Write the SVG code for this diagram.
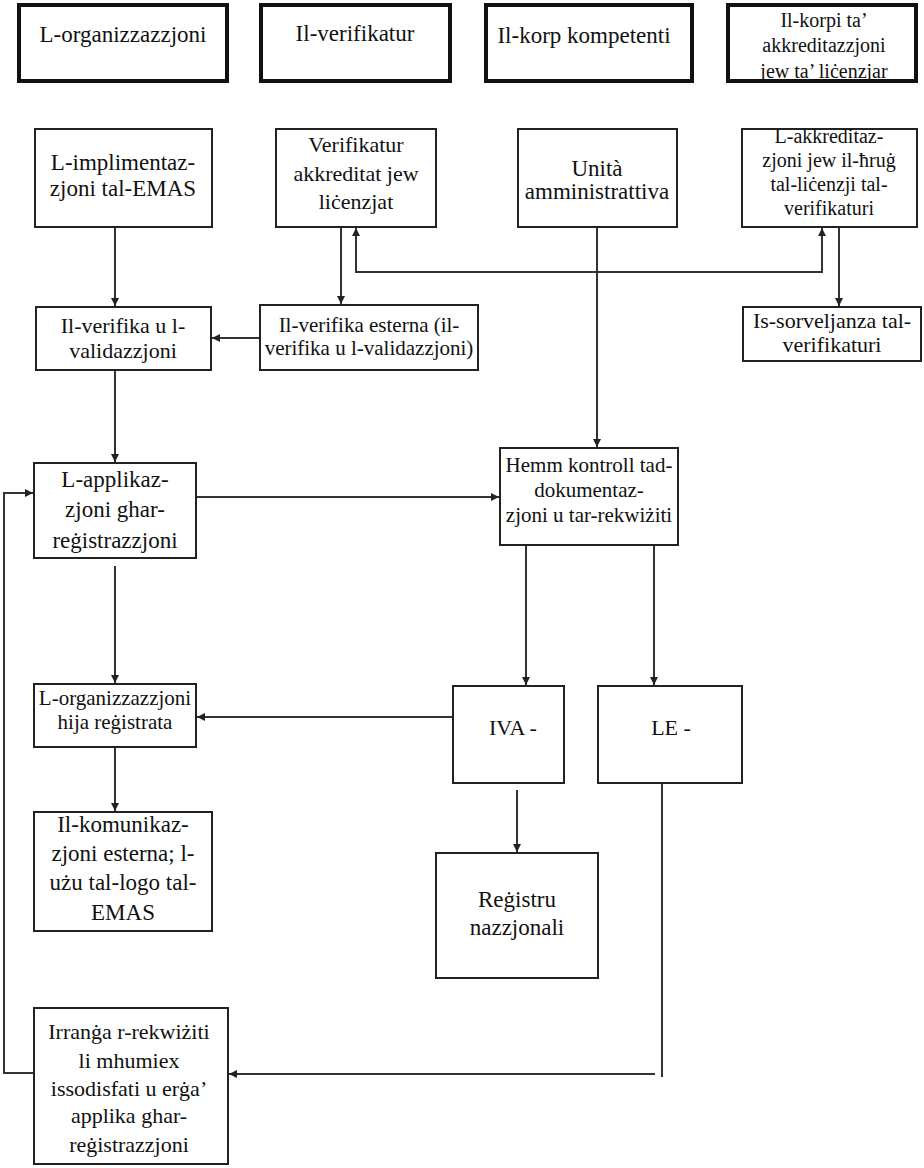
<svg xmlns="http://www.w3.org/2000/svg" width="924" height="1168" viewBox="0 0 924 1168">
<defs>
<marker id="arr" viewBox="0 0 10 10" refX="10" refY="5" markerWidth="8" markerHeight="8" markerUnits="userSpaceOnUse" orient="auto-start-reverse">
<path d="M0,0 L10,5 L0,10 z" fill="#222"/>
</marker>
</defs>
<style>
.hdr{fill:#fff;stroke:#111;stroke-width:4}
.box{fill:#fff;stroke:#222;stroke-width:2}
.t{font-family:"Liberation Serif","Times New Roman",serif;fill:#111;text-anchor:middle;font-size:22px}
.s20{font-size:20px}
.s21{font-size:21px}
.s23{font-size:23px}
.c{fill:none;stroke:#333;stroke-width:2}
.a{marker-end:url(#arr)}
</style>
<rect width="924" height="1168" fill="#fff"/>

<g id="connectors">
<path class="c a" d="M115,227 V306"/>
<path class="c a" d="M341,227 V304"/>
<path class="c a" d="M356,228 V272 H822 V228" marker-start="url(#arr)"/>
<path class="c a" d="M839,227 V306"/>
<path class="c a" d="M260,338 H212"/>
<path class="c a" d="M115,370 V462"/>
<path class="c a" d="M597,227 V447"/>
<path class="c a" d="M196,497 H499"/>
<path class="c a" d="M526,545 V685"/>
<path class="c a" d="M654,545 V685"/>
<path class="c a" d="M115,566 V683"/>
<path class="c a" d="M469,717 H197"/>
<path class="c a" d="M115,747 V811"/>
<path class="c a" d="M517,790 V852"/>
<path class="c" d="M662,773 V1077"/>
<path class="c a" d="M655,1074 H229"/>
<path class="c a" d="M34,1073 H4 V493 H33"/>
</g>

<g id="h1"><rect class="hdr" x="19" y="5" width="208" height="76"/><text class="t s23" x="123" y="42">L-organizzazzjoni</text></g>
<g id="h2"><rect class="hdr" x="261" y="5" width="189" height="76"/><text class="t s23" x="355" y="41">Il-verifikatur</text></g>
<g id="h3"><rect class="hdr" x="486" y="5" width="206" height="76"/><text class="t s23" x="584" y="43">Il-korp kompetenti</text></g>
<g id="h4"><rect class="hdr" x="728" y="5" width="188" height="76"/><text class="t s20" x="824"><tspan x="824" y="27">Il-korpi ta’</tspan><tspan x="824" y="52">akkreditazzjoni</tspan><tspan x="824" y="78">jew ta’ liċenzjar</tspan></text></g>

<g id="impl"><rect class="box" x="35" y="129" width="177" height="98"/><text class="t s23"><tspan x="123" y="170">L-implimentaz-</tspan><tspan x="123" y="196">zjoni tal-EMAS</tspan></text></g>
<g id="verak"><rect class="box" x="276" y="129" width="160" height="98"/><text class="t"><tspan x="356" y="152">Verifikatur</tspan><tspan x="356" y="181">akkreditat jew</tspan><tspan x="356" y="209">liċenzjat</tspan></text></g>
<g id="unita"><rect class="box" x="518" y="129" width="159" height="98"/><text class="t s23"><tspan x="597" y="176">Unità</tspan><tspan x="597" y="199">amministrattiva</tspan></text></g>
<g id="akkr"><rect class="box" x="742" y="129" width="175" height="98"/><text class="t s20"><tspan x="829" y="143">L-akkreditaz-</tspan><tspan x="829" y="167">zjoni jew il-ħruġ</tspan><tspan x="829" y="191">tal-liċenzji tal-</tspan><tspan x="829" y="215">verifikaturi</tspan></text></g>

<g id="verval"><rect class="box" x="36" y="307" width="175" height="63"/><text class="t"><tspan x="123" y="333">Il-verifika u l-</tspan><tspan x="123" y="358">validazzjoni</tspan></text></g>
<g id="esterna"><rect class="box" x="260" y="305" width="218" height="65"/><text class="t s21"><tspan x="369" y="332">Il-verifika esterna (il-</tspan><tspan x="369" y="355">verifika u l-validazzjoni)</tspan></text></g>
<g id="sorv"><rect class="box" x="743" y="307" width="178" height="54"/><text class="t"><tspan x="832" y="328">Is-sorveljanza tal-</tspan><tspan x="832" y="352">verifikaturi</tspan></text></g>

<g id="applik"><rect class="box" x="34" y="463" width="162" height="95"/><text class="t s23"><tspan x="115" y="487">L-applikaz-</tspan><tspan x="115" y="517">zjoni ghar-</tspan><tspan x="115" y="548">reġistrazzjoni</tspan></text></g>
<g id="hemm"><rect class="box" x="500" y="448" width="178" height="97"/><text class="t s21"><tspan x="589" y="472">Hemm kontroll tad-</tspan><tspan x="589" y="497">dokumentaz-</tspan><tspan x="589" y="522">zjoni u tar-rekwiżiti</tspan></text></g>

<g id="orghija"><rect class="box" x="34" y="684" width="162" height="63"/><text class="t s21"><tspan x="115" y="705">L-organizzazzjoni</tspan><tspan x="115" y="729">hija reġistrata</tspan></text></g>
<g id="iva"><rect class="box" x="453" y="686" width="111" height="97"/><text class="t" x="513" y="735">IVA -</text></g>
<g id="le"><rect class="box" x="598" y="686" width="144" height="97"/><text class="t" x="671" y="735">LE -</text></g>

<g id="komun"><rect class="box" x="34" y="812" width="178" height="119"/><text class="t s23"><tspan x="123" y="832">Il-komunikaz-</tspan><tspan x="123" y="861">zjoni esterna; l-</tspan><tspan x="123" y="890">użu tal-logo tal-</tspan><tspan x="123" y="920">EMAS</tspan></text></g>
<g id="registru"><rect class="box" x="436" y="853" width="162" height="125"/><text class="t s23"><tspan x="517" y="907">Reġistru</tspan><tspan x="517" y="935">nazzjonali</tspan></text></g>

<g id="irranga"><rect class="box" x="34" y="1008" width="194" height="156"/><text class="t"><tspan x="129" y="1039">Irranġa r-rekwiżiti</tspan><tspan x="129" y="1068">li mhumiex</tspan><tspan x="129" y="1096">issodisfati u erġa’</tspan><tspan x="129" y="1123">applika ghar-</tspan><tspan x="129" y="1152">reġistrazzjoni</tspan></text></g>
</svg>
